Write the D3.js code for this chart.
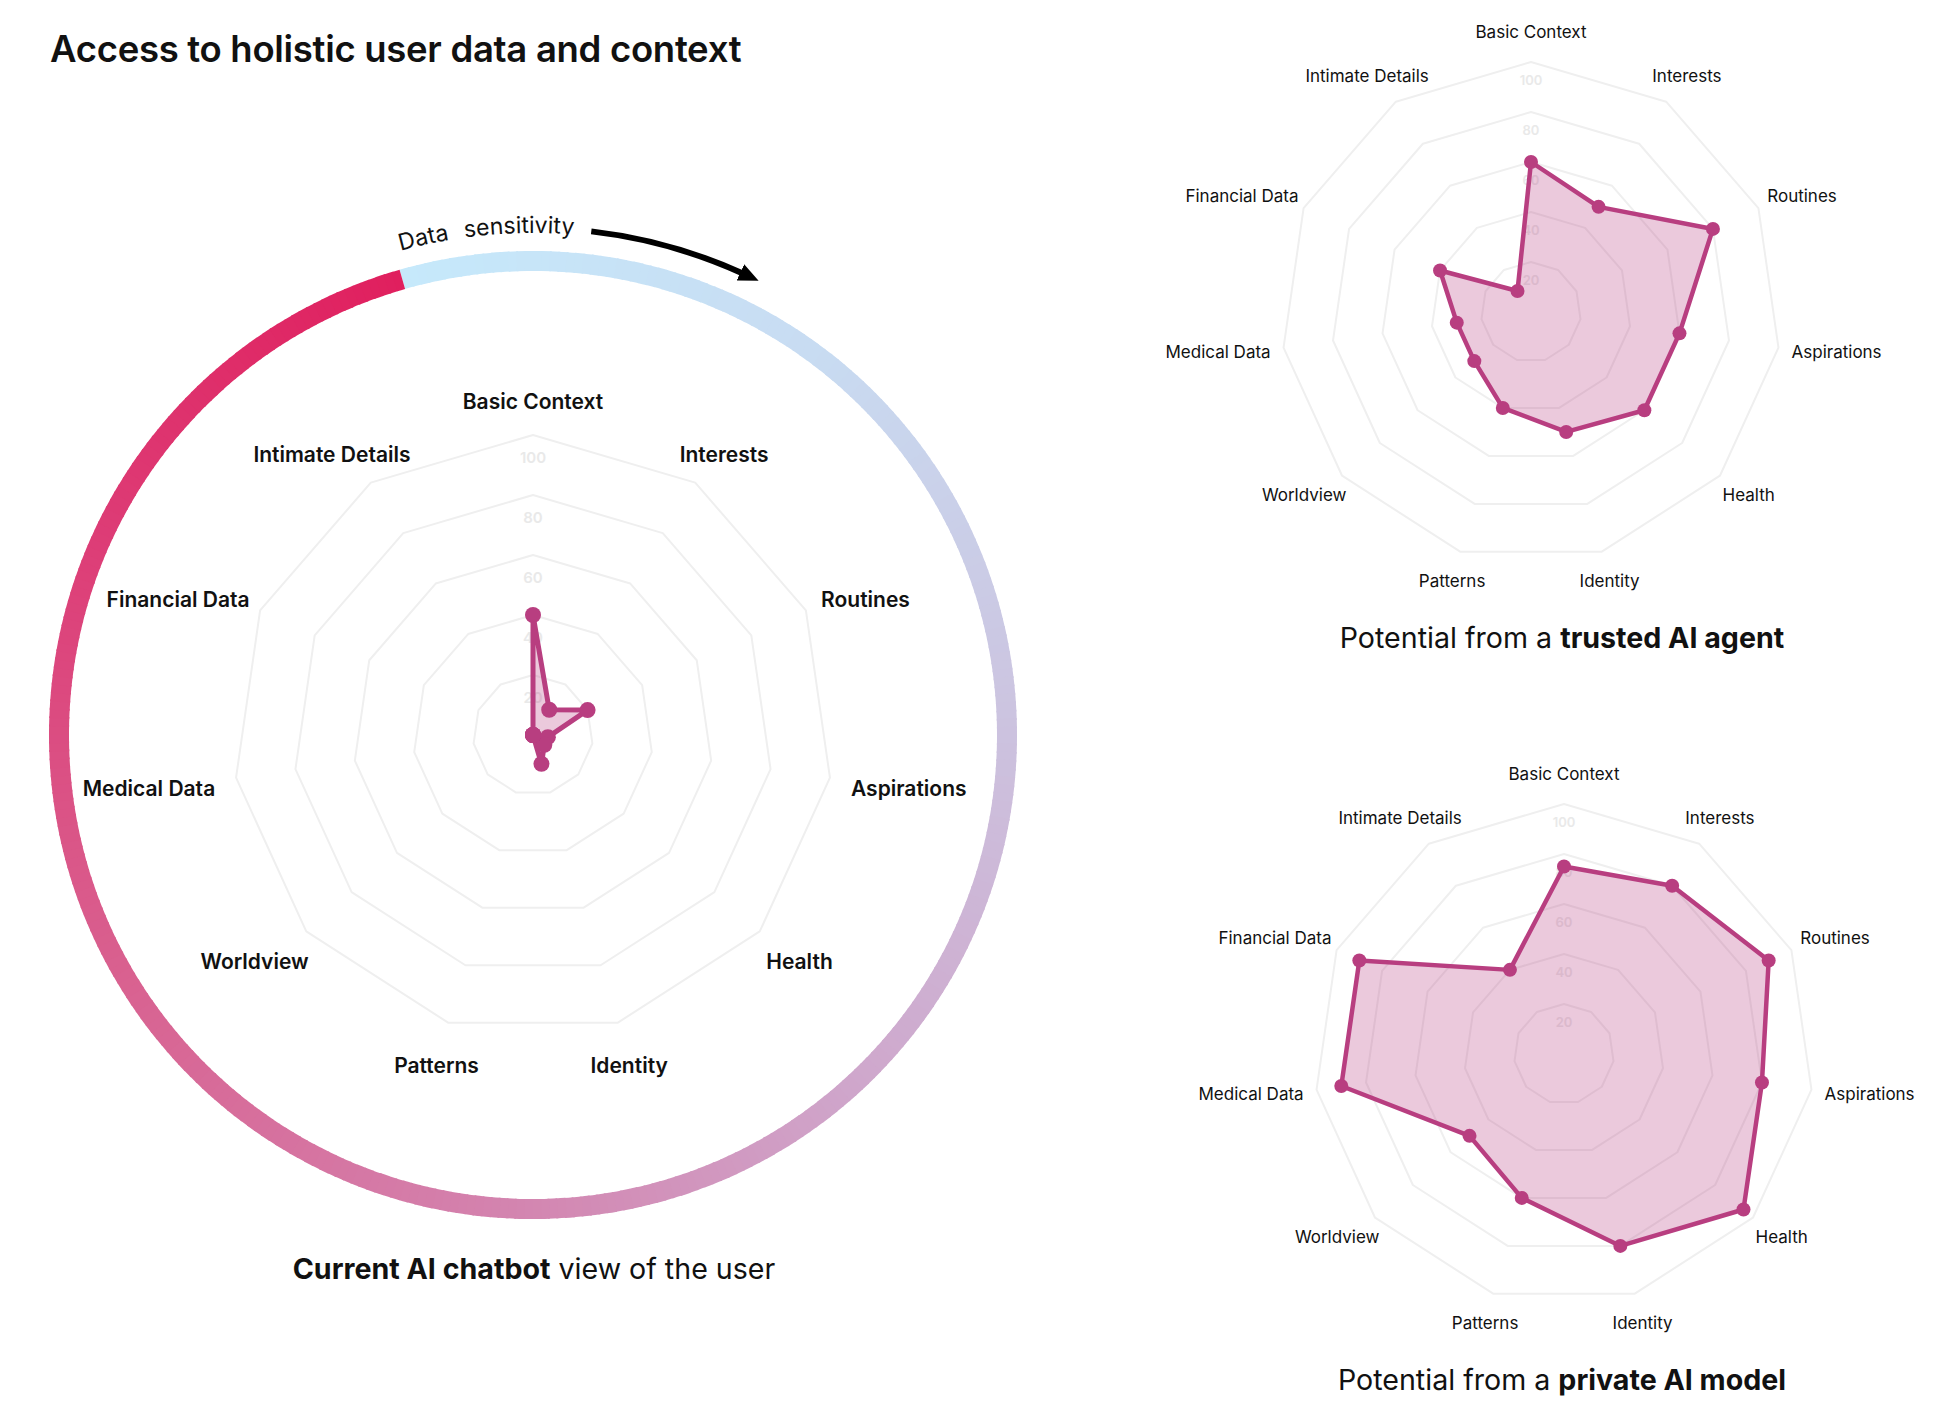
<!DOCTYPE html>
<html>
<head>
<meta charset="utf-8">
<script src="https://cdn.jsdelivr.net/npm/d3@7"></script>
<style>
  body { margin: 0; background: #fff; }
  svg text { font-family: Inter, 'Noto Sans', sans-serif; }
</style>
</head>
<body>
<svg id="chart" width="1944" height="1425"></svg>
<script>
const axisLabels = ['Basic Context', 'Interests', 'Routines', 'Aspirations', 'Health', 'Identity',
  'Patterns', 'Worldview', 'Medical Data', 'Financial Data', 'Intimate Details']
const chatbotValues = [40, 10, 20, 5, 5, 10, 0, 0, 0, 0, 0]
const trustedAgentValues = [60, 50, 80, 60, 60, 50, 40, 30, 30, 40, 10]
const privateModelValues = [75, 80, 90, 80, 95, 80, 60, 50, 90, 90, 40]
const gridTicks = [20, 40, 60, 80, 100]
// colours round the sensitivity ring, clockwise from the light blue end
const sensitivityColors = ['#c6e9fb', '#c8dcf2', '#ccc4e0', '#cfa6cb', '#d47fab', '#d9608f', '#dd3e77', '#e01f5e']

const svg = d3.select('#chart')
const accent = '#b83e80'

function drawRadar(opts, values) {
  const g = svg.append('g').attr('transform', `translate(${opts.cx},${opts.cy})`)
  const r = d3.scaleLinear().domain([0, 100]).range([0, opts.radius])
  const angle = d3.scaleLinear().domain([0, axisLabels.length]).range([0, 2 * Math.PI])
  const ring = d3.lineRadial()
    .angle((d, i) => angle(i))
    .radius(d => r(d))
    .curve(d3.curveLinearClosed)

  g.selectAll('path.grid')
    .data(gridTicks)
    .enter()
    .append('path')
    .attr('class', 'grid')
    .attr('d', t => ring(axisLabels.map(() => t)))
    .attr('fill', 'none')
    .attr('stroke', '#efefef')
    .attr('stroke-width', 2)
    .attr('stroke-linejoin', 'round')

  g.selectAll('text.tick')
    .data(gridTicks)
    .enter()
    .append('text')
    .attr('class', 'tick')
    .attr('x', 0)
    .attr('y', t => -r(t) + opts.tickOffset)
    .attr('text-anchor', 'middle')
    .attr('dominant-baseline', 'central')
    .attr('font-size', opts.tickSize)
    .attr('font-weight', 600)
    .attr('fill', '#e9e9e9')
    .text(t => t)

  g.append('path')
    .attr('d', ring(values))
    .attr('fill', accent)
    .attr('fill-opacity', 0.28)
    .attr('stroke', accent)
    .attr('stroke-width', opts.lineWidth)
    .attr('stroke-linejoin', 'round')

  g.selectAll('circle.pt')
    .data(values)
    .enter()
    .append('circle')
    .attr('class', 'pt')
    .attr('cx', (d, i) => d3.pointRadial(angle(i), r(d))[0])
    .attr('cy', (d, i) => d3.pointRadial(angle(i), r(d))[1])
    .attr('r', opts.pointR)
    .attr('fill', accent)

  g.selectAll('text.lbl')
    .data(axisLabels)
    .enter()
    .append('text')
    .attr('class', 'lbl')
    .attr('text-anchor', 'middle')
    .attr('dominant-baseline', 'central')
    .attr('font-size', opts.labelSize)
    .attr('font-weight', opts.labelWeight)
    .attr('fill', '#111')
    .text(d => d)
    .each(function(d, i) {
      // x: push the label out until its box clears the ring; y: fixed by angle
      const w = this.getComputedTextLength()
      const a = angle(i)
      const dist = opts.radius + opts.labelGap +
        w / 2 * Math.abs(Math.sin(a)) + opts.labelHalfHeight * Math.abs(Math.cos(a))
      d3.select(this)
        .attr('x', Math.sin(a) * dist)
        .attr('y', -Math.cos(a) * (opts.radius + opts.labelRise) + opts.labelDrop)
    })
}

function caption(x, y, plain, bold, boldFirst) {
  const t = svg.append('text')
    .attr('x', x)
    .attr('y', y)
    .attr('text-anchor', 'middle')
    .attr('font-size', 28.6)
    .attr('fill', '#111')
  const parts = boldFirst ? [[bold, 700], [plain, 400]] : [[plain, 400], [bold, 700]]
  parts.forEach(p => {
    t.append('tspan').attr('font-weight', p[1]).text(p[0])
  })
}

// title
svg.append('text')
  .attr('x', 50)
  .attr('y', 62)
  .attr('font-size', 36.5)
  .attr('font-weight', 600)
  .attr('letter-spacing', -0.3)
  .attr('fill', '#111')
  .text('Access to holistic user data and context')

// sensitivity ring round the main radar
const ringCx = 533
const ringCy = 735
const ringStart = -16 * Math.PI / 180
const segCount = 360
const segColor = d3.scaleLinear()
  .domain(d3.range(sensitivityColors.length).map(i => i / (sensitivityColors.length - 1)))
  .range(sensitivityColors)
  .interpolate(d3.interpolateRgb)
const segArc = d3.arc().innerRadius(464).outerRadius(484)
const segStep = 2 * Math.PI / segCount

svg.append('g')
  .attr('transform', `translate(${ringCx},${ringCy})`)
  .selectAll('path')
  .data(d3.range(segCount))
  .enter()
  .append('path')
  .attr('d', i => segArc({
    startAngle: ringStart + i * segStep,
    endAngle: ringStart + (i + 1) * segStep + (i < segCount - 1 ? 0.004 : 0)
  }))
  .attr('fill', i => segColor((i + 0.5) / segCount))

// "Data sensitivity" along the ring, and its arrow
const defs = svg.append('defs')
const textArc = d3.path()
textArc.arc(ringCx, ringCy, 502, -Math.PI / 2 - 0.7, -Math.PI / 2 + 0.7)
defs.append('path').attr('id', 'sensPath').attr('d', textArc.toString())
defs.append('marker')
  .attr('id', 'arrowHead')
  .attr('markerUnits', 'userSpaceOnUse')
  .attr('viewBox', '0 0 20 18')
  .attr('refX', 4)
  .attr('refY', 9)
  .attr('markerWidth', 20)
  .attr('markerHeight', 18)
  .attr('orient', 'auto')
  .append('path')
  .attr('d', 'M0,0 L20,9 L0,18 Z')
  .attr('fill', '#000')

svg.append('text')
  .attr('font-size', 23)
  .attr('word-spacing', 9)
  .attr('fill', '#111')
  .append('textPath')
  .attr('href', '#sensPath')
  .attr('startOffset', (0.7 - 15.3 * Math.PI / 180) * 502)
  .text('Data sensitivity')

const arrowArc = d3.path()
arrowArc.arc(ringCx, ringCy, 507, -Math.PI / 2 + 6.6 * Math.PI / 180, -Math.PI / 2 + 24.6 * Math.PI / 180)
svg.append('path')
  .attr('d', arrowArc.toString())
  .attr('fill', 'none')
  .attr('stroke', '#000')
  .attr('stroke-width', 6)
  .attr('marker-end', 'url(#arrowHead)')

drawRadar({ cx: ringCx, cy: ringCy, radius: 300, labelSize: 21, labelWeight: 600, labelGap: 21,
  labelHalfHeight: 10, labelRise: 39, labelDrop: 5, tickSize: 15, tickOffset: 22,
  lineWidth: 5, pointR: 8 }, chatbotValues)
drawRadar({ cx: 1531, cy: 312, radius: 250, labelSize: 17, labelWeight: 400, labelGap: 13,
  labelHalfHeight: 8, labelRise: 30, labelDrop: 0, tickSize: 13, tickOffset: 18,
  lineWidth: 4.5, pointR: 7 }, trustedAgentValues)
drawRadar({ cx: 1564, cy: 1054, radius: 250, labelSize: 17, labelWeight: 400, labelGap: 13,
  labelHalfHeight: 8, labelRise: 30, labelDrop: 0, tickSize: 13, tickOffset: 18,
  lineWidth: 4.5, pointR: 7 }, privateModelValues)

caption(534, 1279, ' view of the user', 'Current AI chatbot', true)
caption(1562, 648, 'Potential from a ', 'trusted AI agent', false)
caption(1562, 1390, 'Potential from a ', 'private AI model', false)
</script>
</body>
</html>
